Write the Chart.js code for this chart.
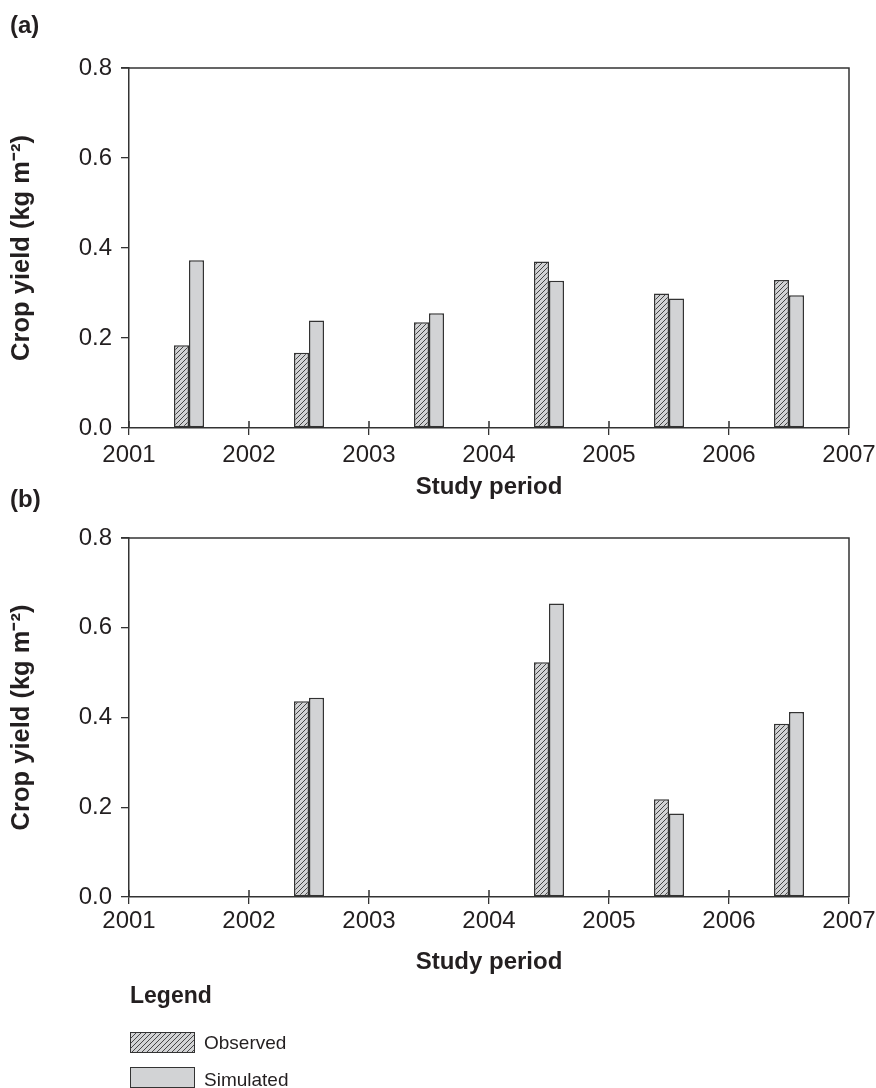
<!DOCTYPE html>
<html>
<head>
<meta charset="utf-8">
<script src="https://cdn.jsdelivr.net/npm/chart.js@4.4.1/dist/chart.umd.min.js"></script>
<style>
  html, body { margin: 0; padding: 0; background: #fff; }
  body { width: 876px; height: 1088px; position: relative; overflow: hidden; font-family: 'Liberation Sans', Arial, sans-serif; color: #231f20; }
  canvas { position: absolute; left: 0; }
  .lbl { position: absolute; line-height: 1; white-space: nowrap; }
  .panel { font-weight: bold; font-size: 24px; left: 10px; }
  .sw { position: absolute; left: 130px; width: 63px; height: 19px; border: 1.5px solid #333; }
</style>
</head>
<body>
<canvas id="chartA" width="876" height="510" style="top:0"></canvas>
<canvas id="chartB" width="876" height="480" style="top:510px"></canvas>
<div class="lbl panel" style="top:13px">(a)</div>
<div class="lbl panel" style="top:487px">(b)</div>
<div class="lbl" style="left:130px; top:984px; font-weight:bold; font-size:23px">Legend</div>
<canvas id="swObs" class="sw" width="63" height="19" style="top:1032px"></canvas>
<div class="lbl" style="left:204px; top:1033px; font-size:19px">Observed</div>
<canvas id="swSim" class="sw" width="63" height="19" style="top:1067px"></canvas>
<div class="lbl" style="left:204px; top:1070px; font-size:19px">Simulated</div>
<script>
// crop yield, kg m-2, bars sit mid-year
const yearsA = [2001.5, 2002.5, 2003.5, 2004.5, 2005.5, 2006.5];
const observedA = [0.184, 0.167, 0.235, 0.370, 0.299, 0.329];
const simulatedA = [0.373, 0.239, 0.255, 0.327, 0.288, 0.295];

const yearsB = [2002.5, 2004.5, 2005.5, 2006.5];
const observedB = [0.436, 0.523, 0.218, 0.386];
const simulatedB = [0.444, 0.654, 0.186, 0.412];

const xTicks = [2001, 2002, 2003, 2004, 2005, 2006, 2007];
const yTicks = [0.0, 0.2, 0.4, 0.6, 0.8];

const INK = '#333333';
const GREY = '#d2d3d5';
const FONT = "'Liberation Sans', Arial, sans-serif";

function makeHatch() {
    const c = document.createElement('canvas');
    c.width = 5; c.height = 5;
    const g = c.getContext('2d');
    g.fillStyle = GREY; g.fillRect(0, 0, 5, 5);
    g.strokeStyle = INK; g.lineWidth = 0.9;
    g.beginPath();
    g.moveTo(0, 5); g.lineTo(5, 0);
    g.moveTo(-1, 1); g.lineTo(1, -1);
    g.moveTo(4, 6); g.lineTo(6, 4);
    g.stroke();
    return c;
}
const hatchTile = makeHatch();

// box round the plot + the inner half of the x tick marks
const framePlugin = {
    id: 'frame',
    afterDraw(chart) {
        const { ctx, chartArea: a } = chart;
        const x = chart.scales.x;
        ctx.save();
        ctx.strokeStyle = INK; ctx.lineWidth = 1.5;
        ctx.beginPath();
        ctx.moveTo(a.left - 8, a.top); ctx.lineTo(a.right, a.top); ctx.lineTo(a.right, a.bottom);
        x.ticks.forEach(t => {
            const px = x.getPixelForValue(t.value);
            ctx.moveTo(px, a.bottom); ctx.lineTo(px, a.bottom - 7);
        });
        ctx.stroke();
        ctx.restore();
    }
};

function makeChart(id, years, obs, sim, g) {
    const ctx = document.getElementById(id).getContext('2d');
    const hatch = ctx.createPattern(hatchTile, 'repeat');
    return new Chart(ctx, {
        type: 'bar',
        data: {
            datasets: [
                { label: 'Observed', data: years.map((y, i) => ({ x: y, y: obs[i] })), backgroundColor: hatch, borderColor: INK, borderWidth: 1.5, borderSkipped: false },
                { label: 'Simulated', data: years.map((y, i) => ({ x: y, y: sim[i] })), backgroundColor: GREY, borderColor: INK, borderWidth: 1.5, borderSkipped: false }
            ]
        },
        options: {
            responsive: false,
            animation: false,
            devicePixelRatio: 1,
            categoryPercentage: 0.25,
            barPercentage: 1,
            layout: { padding: { left: 0, right: 27, top: g.top, bottom: 0 } },
            plugins: { legend: { display: false }, tooltip: { enabled: false } },
            scales: {
                x: {
                    type: 'linear', min: 2001, max: 2007, offset: false,
                    afterBuildTicks: s => { s.ticks = xTicks.map(v => ({ value: v })); },
                    afterFit: s => { s.height = g.xHeight; s.paddingLeft = 0; s.paddingRight = 0; },
                    grid: { display: true, drawOnChartArea: false, drawTicks: true, tickLength: 7, color: INK, lineWidth: 1.3, offset: false },
                    border: { display: true, color: INK, width: 1.5 },
                    ticks: { color: '#231f20', font: { family: FONT, size: 24 }, padding: g.tickPad, maxRotation: 0, autoSkip: false, callback: v => String(v) },
                    title: { display: true, text: 'Study period', color: '#231f20', font: { family: FONT, size: 24, weight: 'bold' }, padding: { top: 0, bottom: g.titlePad } }
                },
                y: {
                    min: 0, max: 0.8,
                    afterBuildTicks: s => { s.ticks = yTicks.map(v => ({ value: v })); },
                    afterFit: s => { s.width = 129; },
                    grid: { display: true, drawOnChartArea: false, drawTicks: true, tickLength: 8, color: INK, lineWidth: 1.3 },
                    border: { display: true, color: INK, width: 1.5 },
                    ticks: { color: '#231f20', font: { family: FONT, size: 24 }, padding: 9, callback: v => v.toFixed(1) },
                    title: { display: true, text: 'Crop yield (kg m⁻²)', color: '#231f20', font: { family: FONT, size: 25.5, weight: 'bold' }, padding: { top: 7, bottom: 0 } }
                }
            }
        },
        plugins: [framePlugin]
    });
}

makeChart('chartA', yearsA, observedA, simulatedA, { top: 68, xHeight: 82, tickPad: 5.6, titlePad: 8.6 });
makeChart('chartB', yearsB, observedB, simulatedB, { top: 28, xHeight: 93, tickPad: 2.6, titlePad: 13.6 });

// legend swatches
const so = document.getElementById('swObs').getContext('2d');
so.fillStyle = so.createPattern(hatchTile, 'repeat'); so.fillRect(0, 0, 63, 19);
const ss = document.getElementById('swSim').getContext('2d');
ss.fillStyle = GREY; ss.fillRect(0, 0, 63, 19);
</script>
</body>
</html>
